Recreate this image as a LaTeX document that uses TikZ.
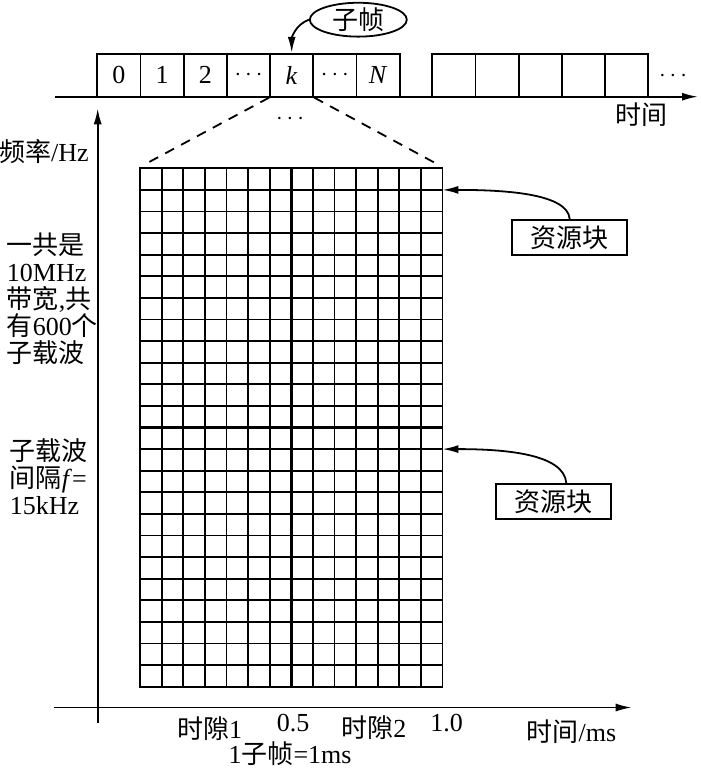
\documentclass[tikz,border=0pt]{standalone}
\usepackage{fontspec}
\setmainfont{Liberation Serif}
\newfontfamily\cjk{Noto Sans CJK SC}
\usetikzlibrary{arrows.meta,positioning,shapes.geometric}

\begin{document}
\begin{tikzpicture}[x=0.5pt, y=-0.5pt, line width=0.9pt,
  every node/.style={align=center, font=\fontsize{13}{13.5}\selectfont},
  cell/.style={draw, minimum width=21.6pt, minimum height=21.5pt, inner sep=0pt},
  arr/.style={-{Latex[length=8pt,width=4pt]}},
  rblock/.style={draw, minimum width=57.5pt, minimum height=17.4pt, inner sep=0pt},
  gridline/.style={line width=0.9pt},
  midline/.style={line width=1.5pt}]
\useasboundingbox (0,0) rectangle (700,769);
% subframes on the time axis
\foreach \lbl [count=\i from 0] in {0,1,2,$\cdots$,\textit{k},$\cdots$,\textit{N}}
  \node[cell] (f\i) at ({118.9+43.2*\i},75.2) {\lbl};
\foreach \i in {0,...,4}
  \node[cell] (g\i) at ({453.9+43.2*\i},75.2) {};
\node (gdots) at (673,76) {$\cdots$};
\coordinate (taxis0) at (54.5,96.7);
\coordinate (taxis1) at (698,96.7);
\draw[arr] (taxis0) -- (taxis1);
\node (tlabel) at (641.7,115) {\cjk 时间};
\node[draw, ellipse, minimum width=48.5pt, minimum height=14.7pt, inner sep=0pt] (subf) at (358.3,19.7) {\cjk 子帧};
\draw[arr] (subf.west) to[out=200,in=90] (f4.north);

% resource grid
\node[draw, minimum width=151.2pt, minimum height=259.2pt, inner sep=0pt] (rgrid) at (291.2,427.5) {};
\foreach \c in {1,...,13} \draw[gridline] ({140+21.6*\c},168.3) -- ++(0,518.4);
\foreach \r in {1,...,23} \draw[gridline] (140,{168.3+21.6*\r}) -- ++(302.4,0);
\draw[midline] (rgrid.north) -- (rgrid.south);
\draw[midline] (rgrid.west) -- (rgrid.east);
\draw[dashed, dash pattern=on 5pt off 4pt, shorten >=3.5pt] (f4.south west) -- (rgrid.north west);
\draw[dashed, dash pattern=on 5pt off 4pt, shorten >=3.5pt] (f4.south east) -- (rgrid.north east);
\node (kdots) at (290,119.3) {$\cdots$};

% axes
\coordinate (faxis0) at (97.7,722.7);
\coordinate (faxis1) at (97.7,108.3);
\draw[arr] (faxis0) -- (faxis1);
\coordinate (baxis0) at (54.3,707.5);
\coordinate (baxis1) at (631.7,707.5);
\draw[arr] (baxis0) -- (baxis1);

% labels
\node (flabel) at (44,151.7) {{\cjk 频率}/Hz};
\node[anchor=west, align=left, inner sep=0pt] (bw) at (6,298.5) {{\cjk 一共是}\\10MHz\\{\cjk 带宽},{\cjk 共}\\{\cjk 有}600{\cjk 个}\\{\cjk 子载波}};
\node[anchor=west, align=left, inner sep=0pt] (spc) at (9,477) {{\cjk 子载波}\\{\cjk 间隔}\textit{f}=\\15kHz};
\node (slot1) at (209.7,728.3) {{\cjk 时隙}1};
\node (half) at (293,723.3) {0.5};
\node (slot2) at (373.8,728) {{\cjk 时隙}2};
\node (one) at (446.7,723) {1.0};
\node (blabel) at (571.5,731.7) {{\cjk 时间}/ms};
\node (sublen) at (290,754) {1{\cjk 子帧}=1ms};

% resource block callouts
\node[rblock] (rb1) at (569.7,237.3) {\cjk 资源块};
\node[rblock] (rb2) at (553.3,501.5) {\cjk 资源块};
\coordinate (tip1) at (442.4,189.9);
\coordinate (tip2) at (442.4,449.1);
\draw[arr] (rb1.north) .. controls +(-2,-26) and +(60,0) .. (tip1);
\draw[arr] ([xshift=6.5pt]rb2.north) .. controls +(-2,-30) and +(60,0) .. (tip2);
\end{tikzpicture}
\end{document}
